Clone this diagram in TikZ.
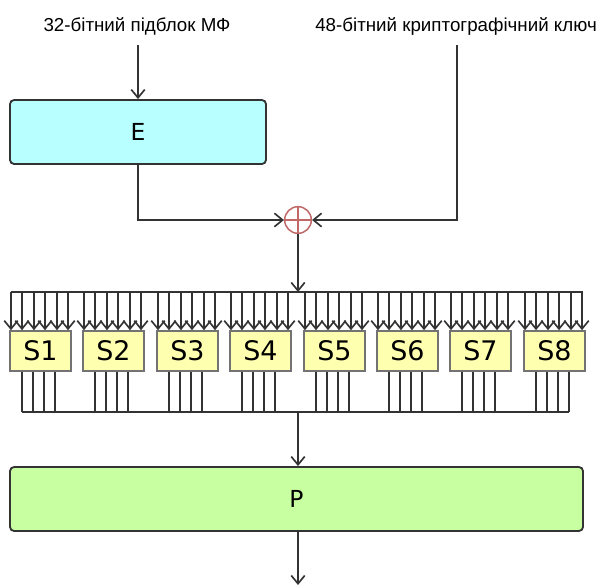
\documentclass[tikz,border=0pt]{standalone}
\usepackage{fontspec}
\setmainfont{DejaVu Sans}
\newfontfamily\labfont{Liberation Sans}
\usetikzlibrary{arrows.meta}
\definecolor{efill}{HTML}{B8FFFF}
\definecolor{pfill}{HTML}{C8FFA0}
\definecolor{sfill}{HTML}{FFFFB0}
\definecolor{xorc}{HTML}{C06868}
\definecolor{linec}{HTML}{333333}
\begin{document}
\begin{tikzpicture}[x=0.03cm,y=-0.03cm,
  conn/.style={draw=linec,line width=0.055cm},
  arr/.style={conn,-{Straight Barb[length=7pt,width=11.5pt,line width=0.05cm]}},
  bigbox/.style={draw=linec,line width=0.055cm,rounded corners=3.5pt,minimum height=1.92cm,inner sep=0pt,font=\fontsize{20}{24}\selectfont},
  sbox/.style={draw=black!55,line width=0.05cm,fill=sfill,minimum width=1.83cm,minimum height=1.2cm,inner sep=0pt,font=\fontsize{23}{26}\selectfont},
  toplabel/.style={font=\labfont\fontsize{16}{19}\selectfont,inner sep=0pt},
  xorstyle/.style={circle,draw=xorc,line width=0.045cm,minimum size=0.8cm,inner sep=0pt,
    path picture={\draw[xorc,line width=0.045cm] (path picture bounding box.north) -- (path picture bounding box.south)
      (path picture bounding box.west) -- (path picture bounding box.east);}}
]
\useasboundingbox (0,0) rectangle (600,585);

\node[toplabel] (lab1) at (137,26) {32-бітний підблок МФ};
\node[toplabel] (lab2) at (456,26) {48-бітний криптографічний ключ};
\coordinate (in1) at (138,45);
\coordinate (in2) at (457,45);

\node[bigbox,fill=efill,minimum width=7.68cm] (E) at (138,132) {E};
\node[xorstyle] (xor) at (298,220) {};

\draw[arr] (in1) -- (E.north);
\draw[arr] (E.south) |- (xor.west);
\draw[arr] (in2) |- (xor.east);

\coordinate (bustop) at (298,292);
\coordinate (busbot) at (298,412);
\draw[arr] (xor.south) -- (bustop);
\draw[conn] (11,292) -- (583,292);
\draw[conn] (22,412) -- (569,412);

\foreach \i in {1,...,8}{
  \pgfmathsetmacro{\xl}{round(10+73.4*(\i-1))}
  \node[sbox] (s\i) at (\xl+30.5,351) {S\i};
  \foreach \j in {0,...,5}{
    \pgfmathsetmacro{\xx}{round(\xl+1+11.4*\j)}
    \draw[arr] (\xx,292) -- (s\i.north -| \xx,0);
  }
  \foreach \j in {0,...,3}{
    \pgfmathsetmacro{\xx}{\xl+12+11*\j}
    \draw[conn] (s\i.south -| \xx,0) -- (\xx,412);
  }
}

\node[bigbox,fill=pfill,minimum width=17.19cm] (P) at (296.5,499) {P};
\coordinate (out) at (298,585);
\draw[arr] (busbot) -- (busbot |- P.north);
\draw[arr] (P.south -| out) -- (out);
\end{tikzpicture}
\end{document}
